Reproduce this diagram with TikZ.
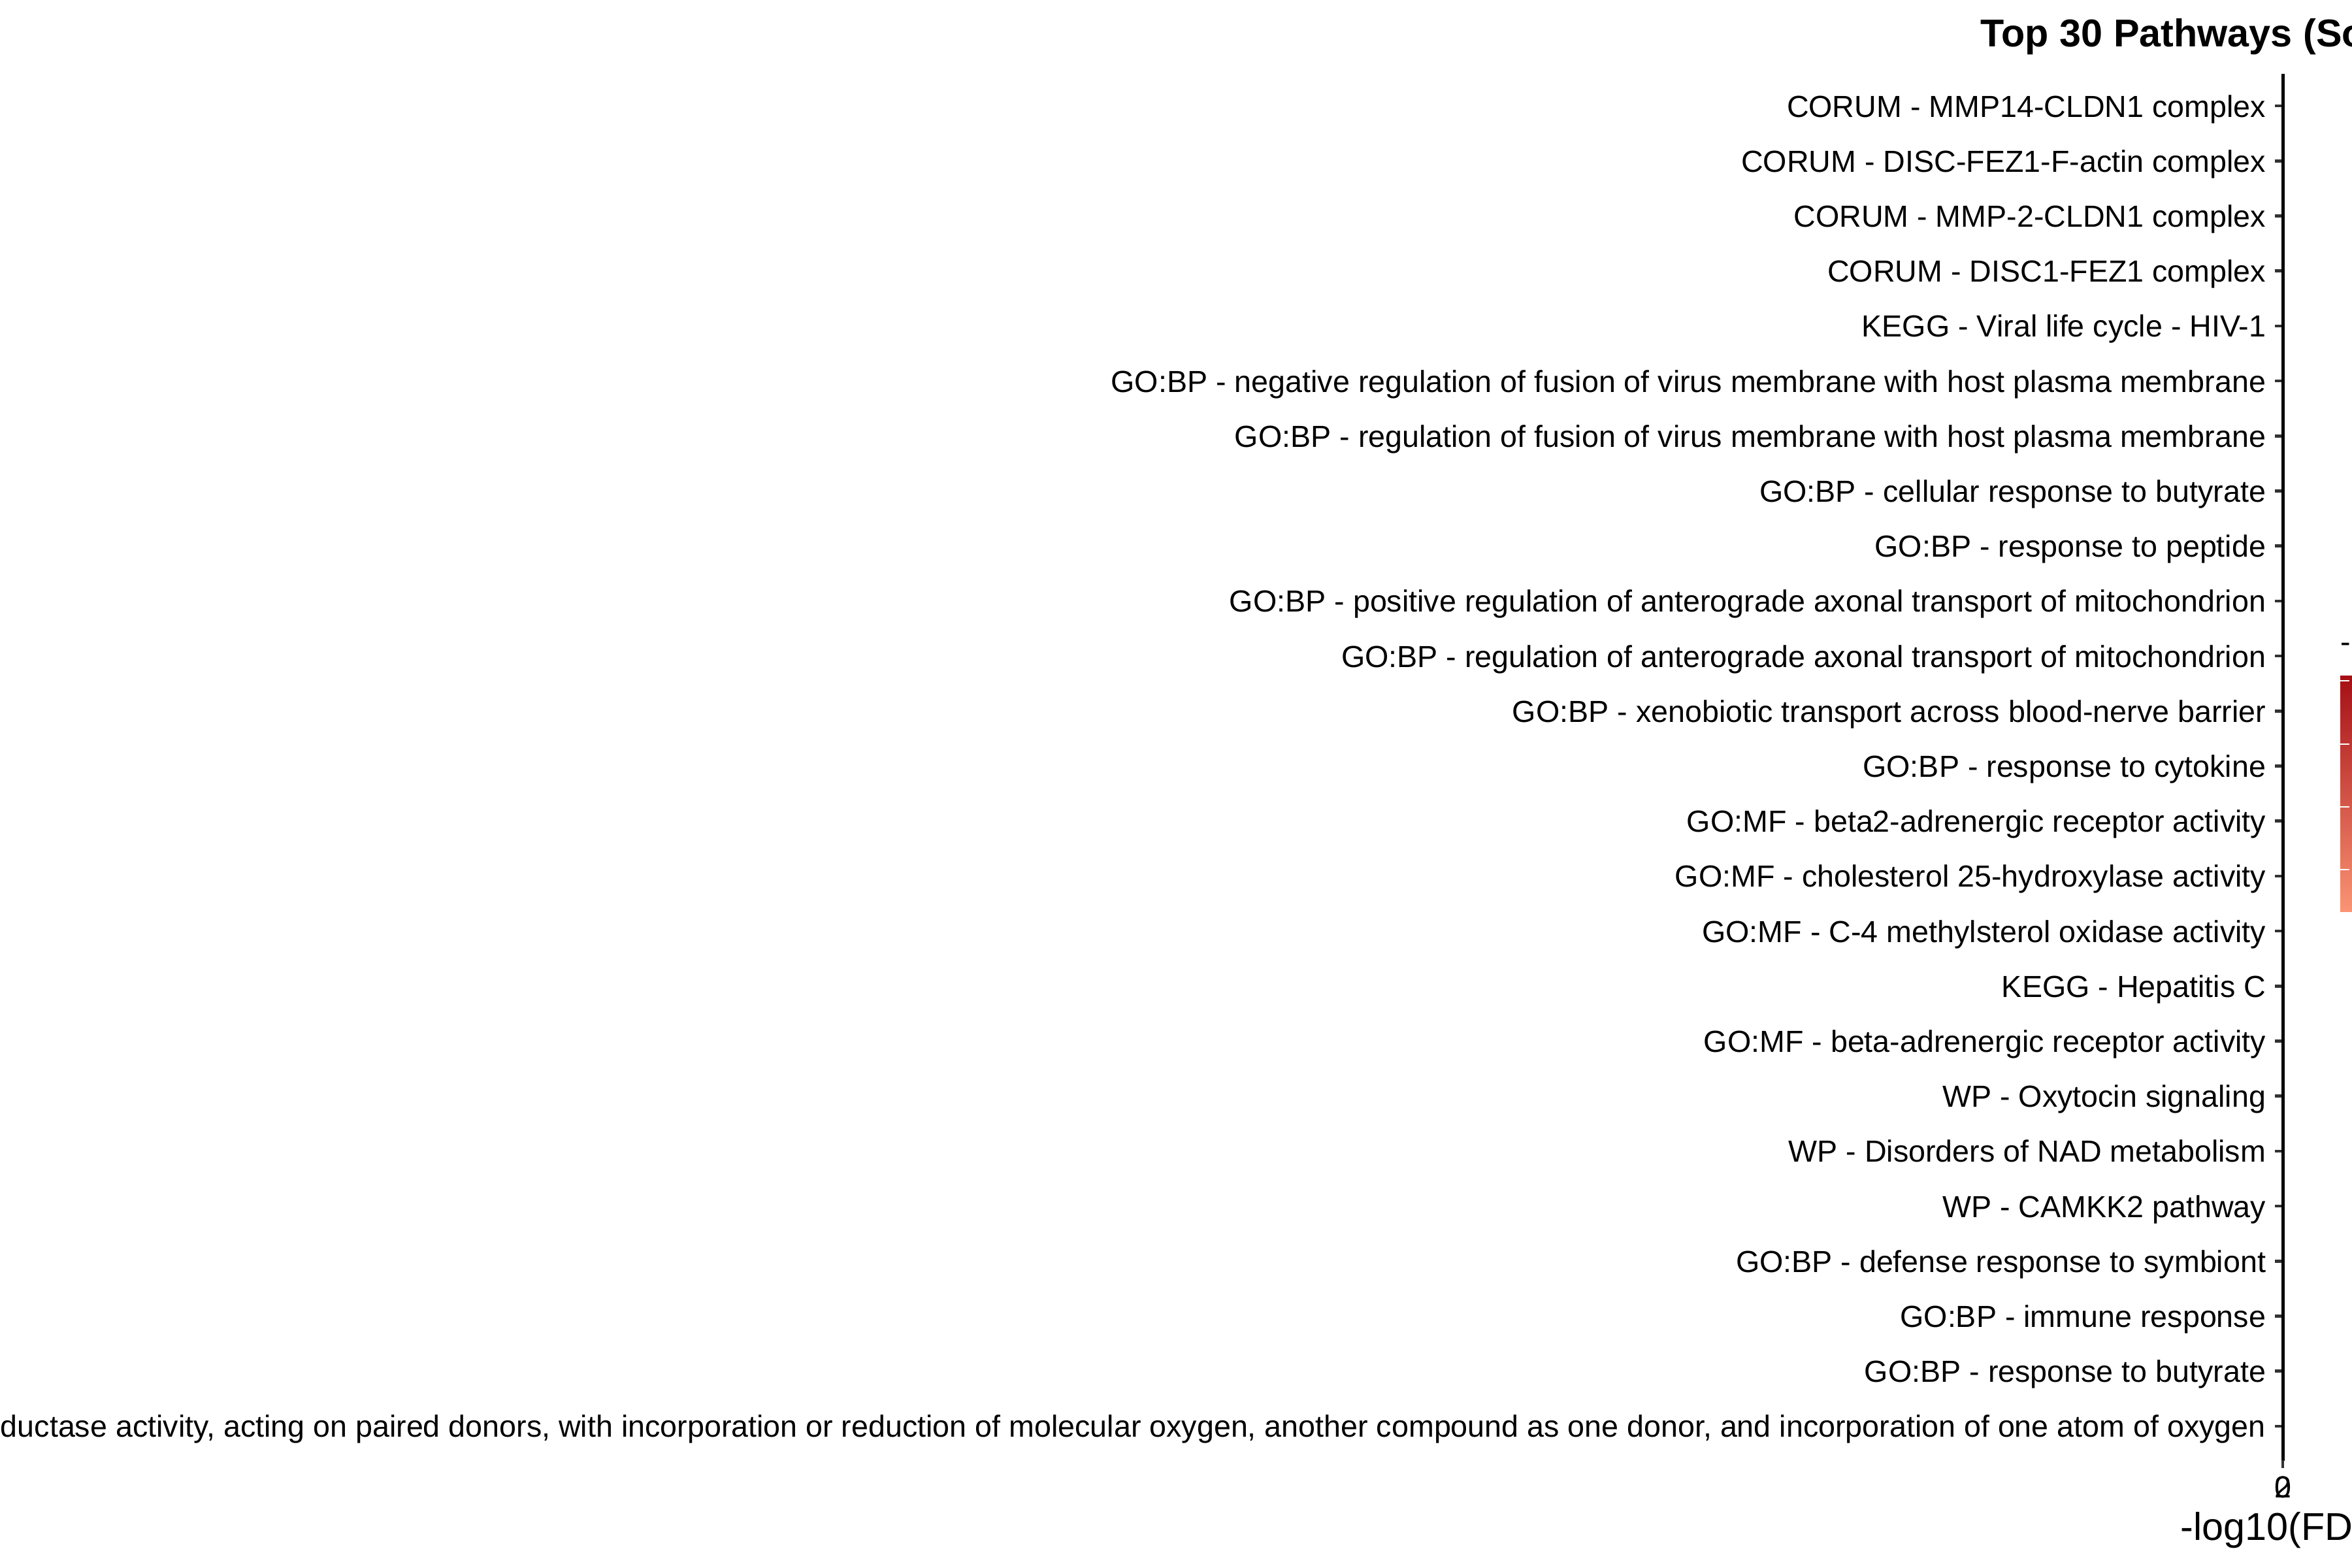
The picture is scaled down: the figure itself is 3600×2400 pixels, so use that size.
\documentclass[tikz,border=0pt]{standalone}
\usepackage{fontspec}
\setmainfont{Liberation Sans}
\definecolor{tickgrey}{HTML}{333333}
\definecolor{barhigh}{HTML}{A50F15}
\definecolor{barmid}{HTML}{D4553F}
\definecolor{barlow}{HTML}{FA9474}
\begin{document}
\begin{tikzpicture}[x=0.24bp,y=-0.24bp,
  lab/.style={anchor=base east, inner sep=0pt, font=\fontsize{11.19bp}{13bp}\selectfont},
  ticklab/.style={anchor=base, inner sep=0pt, font=\fontsize{11.19bp}{13bp}\selectfont},
  axtitle/.style={anchor=base west, inner sep=0pt, font=\fontsize{14.24bp}{17bp}\selectfont},
  legtitle/.style={anchor=base west, inner sep=0pt, font=\fontsize{11.19bp}{13bp}\selectfont},
  maintitle/.style={anchor=base west, inner sep=0pt, font=\bfseries\fontsize{14.24bp}{17bp}\selectfont},
  tickline/.style={draw=tickgrey, line width=1.1bp},
  axisline/.style={draw=black, line width=1.2bp},
  bartick/.style={draw=white, line width=0.5bp}]
\useasboundingbox (0,0) rectangle (3600,2400);
\clip (0,0) rectangle (3600,2400);
\fill[white] (0,0) rectangle (3600,2400);
% title
\node[maintitle] (title) at (3031,71) {Top 30 Pathways (So};
% y labels and ticks
\foreach \t [count=\i] in {
  CORUM - MMP14-CLDN1 complex,
  CORUM - DISC-FEZ1-F-actin complex,
  CORUM - MMP-2-CLDN1 complex,
  CORUM - DISC1-FEZ1 complex,
  KEGG - Viral life cycle - HIV-1,
  GO:BP - negative regulation of fusion of virus membrane with host plasma membrane,
  GO:BP - regulation of fusion of virus membrane with host plasma membrane,
  GO:BP - cellular response to butyrate,
  GO:BP - response to peptide,
  GO:BP - positive regulation of anterograde axonal transport of mitochondrion,
  GO:BP - regulation of anterograde axonal transport of mitochondrion,
  GO:BP - xenobiotic transport across blood-nerve barrier,
  GO:BP - response to cytokine,
  GO:MF - beta2-adrenergic receptor activity,
  GO:MF - cholesterol 25-hydroxylase activity,
  GO:MF - C-4 methylsterol oxidase activity,
  KEGG - Hepatitis C,
  GO:MF - beta-adrenergic receptor activity,
  WP - Oxytocin signaling,
  WP - Disorders of NAD metabolism,
  WP - CAMKK2 pathway,
  GO:BP - defense response to symbiont,
  GO:BP - immune response,
  GO:BP - response to butyrate,
  {GO:MF - oxidoreductase activity, acting on paired donors, with incorporation or reduction of molecular oxygen, another compound as one donor, and incorporation of one atom of oxygen}}
{
  \pgfmathsetmacro\yy{162+84.2*(\i-1)}
  \node[lab] (lab\i) at (3469,\yy+17) {\t};
  \coordinate (tk\i) at (3494,\yy);
  \coordinate (tkl\i) at (3482,\yy);
  \draw[tickline] (tkl\i) -- (tk\i);
}
% axes
\coordinate (axtop) at (3494,113);
\coordinate (axbot) at (3494,2236);
\draw[axisline] (axtop) -- (axbot);
\coordinate (xt0) at (3494,2235);
\coordinate (xt1) at (3494,2247);
\draw[tickline] (xt0) -- (xt1);
\node[ticklab] (x0) at (3494,2292) {0};
\node[ticklab] (x2) at (3494,2292) {2};
\node[axtitle] (xtitle) at (3337,2357) {-log10(FDR)};
% legend
\node[legtitle] (legt) at (3582,998) {-log10(FDR)};
\shade[top color=barhigh, middle color=barmid, bottom color=barlow] (3582,1034) rectangle (3660,1395);
\foreach \yy [count=\j] in {1042,1139,1235,1331} {
  \coordinate (bl\j) at (3582,\yy);
  \coordinate (br\j) at (3596,\yy);
  \draw[bartick] (bl\j) -- (br\j);
}
\end{tikzpicture}
\end{document}
